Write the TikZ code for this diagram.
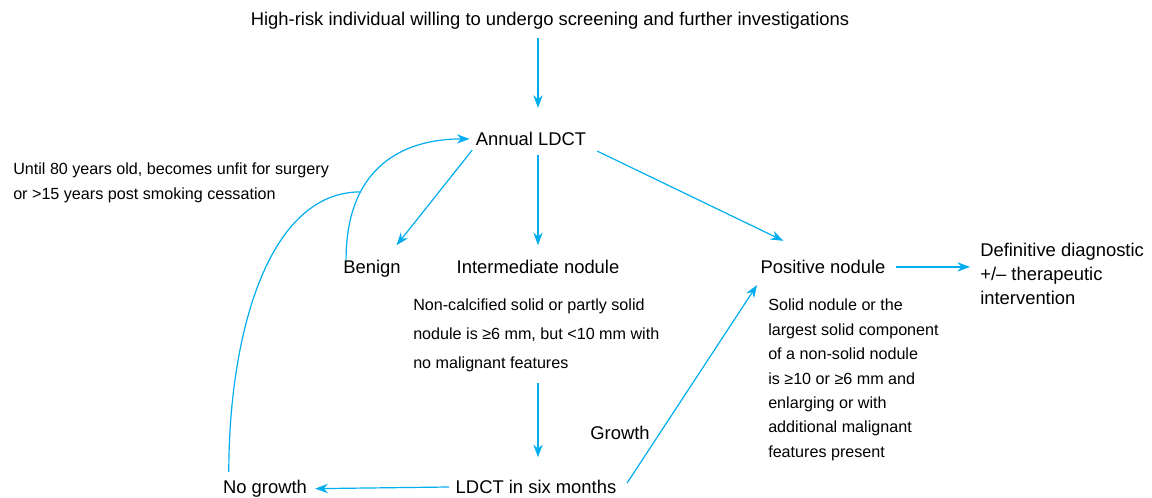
\documentclass[tikz,border=0pt]{standalone}
\usepackage{fontspec}
\setmainfont{Liberation Sans}
\usepackage{tikz}
\usetikzlibrary{arrows.meta}
\definecolor{flow_blue}{HTML}{00AEEF}

\begin{document}
\begin{tikzpicture}[x=0.75pt,y=-0.75pt,
        maintext/.style={font=\fontsize{13.8}{18}\selectfont, inner sep=0, anchor=base},
        smalltext/.style={font=\fontsize{12.1}{18.5}\selectfont, inner sep=0, anchor=north west, align=left},
        flow/.style={draw=flow_blue, line width=0.9pt, -{Stealth[length=9.5pt,width=7pt]}}]
        \useasboundingbox (0,0) rectangle (1152,498);
        % Noeuds principaux
        \node[maintext] (top) at (550,25.5) {High-risk individual willing to undergo screening and further investigations};
        \node[maintext] (annual) at (531,145.5) {Annual LDCT};
        \node[maintext] (benign) at (372,273.5) {Benign};
        \node[maintext] (inter) at (538,273.5) {Intermediate nodule};
        \node[maintext] (positive) at (823,273.5) {Positive nodule};
        \node[maintext] (six) at (536,493.5) {LDCT in six months};
        \node[maintext] (nogrowth) at (265,493.5) {No growth};
        \node[maintext] (growth) at (620,439.5) {Growth};
        \node[maintext, anchor=north west, align=left] (defin) at (980,242.5) {Definitive diagnostic\\+/-- therapeutic\\intervention};
        % Textes explicatifs
        \node[smalltext] (until) at (13,163) {Until 80 years old, becomes unfit for surgery\\or >15 years post smoking cessation};
        \node[smalltext, font=\fontsize{12.1}{21.75}\selectfont] (intertext) at (413,299) {Non-calcified solid or partly solid\\nodule is ≥6 mm, but <10 mm with\\no malignant features};
        \node[smalltext, font=\fontsize{12.1}{18.3}\selectfont] (postext) at (768,299) {Solid nodule or the\\largest solid component\\of a non-solid nodule\\is ≥10 or ≥6 mm and\\enlarging or with\\additional malignant\\features present};
        % Fleches
        \draw[flow, shorten <=6.5pt, shorten >=18pt] (top.south -| inter) -- (annual.north -| inter);
        \draw[flow, shorten <=4pt, shorten >=14pt] (annual.south west) -- ([xshift=-12pt]benign.north east);
        \draw[flow, shorten <=7pt, shorten >=11pt] (annual.south -| inter) -- (inter.north);
        \draw[flow, shorten <=9pt, shorten >=33pt] (annual.south east) -- (positive.north);
        \draw[flow, shorten <=8pt, shorten >=7.5pt] (positive.east) -- (positive.east -| defin.west);
        \draw[flow, shorten <=8pt, shorten >=17pt] (intertext.south -| inter) -- (six.north -| inter);
        \draw[flow, shorten <=5pt, shorten >=6pt] (six.west) -- (nogrowth.east);
        \draw[flow, shorten <=3.5pt, shorten >=10pt] ([xshift=6pt]six.east) -- ([xshift=3pt]positive.south west);
        % Boucle vers le LDCT annuel
        \draw[flow, shorten >=4.5pt] ([xshift=2.25pt]benign.north west) .. controls +(0,-95) and +(-70,0) .. (annual.west) coordinate[pos=0.3] (merge);
        \draw[flow, -, shorten <=6pt] ([xshift=4.5pt]nogrowth.north west) .. controls +(0,-140) and +(-95,0) .. (merge);
\end{tikzpicture}
\end{document}
